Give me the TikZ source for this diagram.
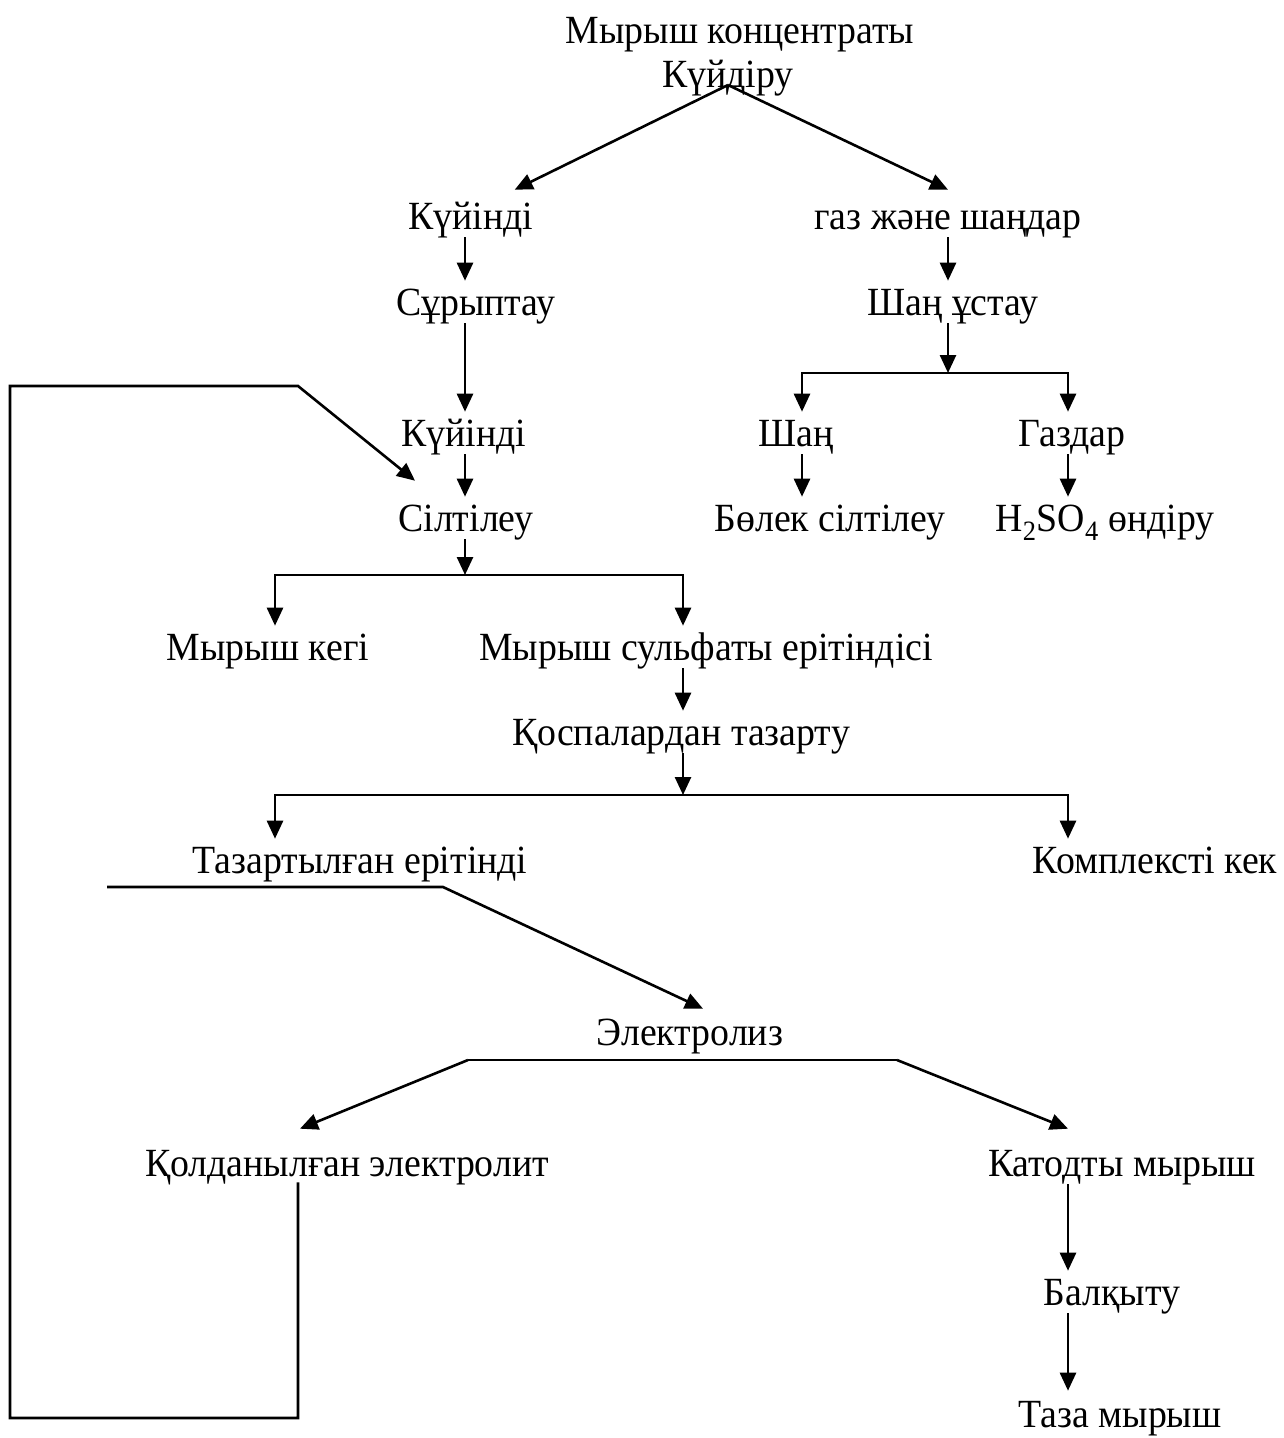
\documentclass[tikz,border=0pt]{standalone}
\usepackage{fontspec}
\setmainfont[FakeStretch=0.945]{Liberation Serif}
\usepackage{tikz}
\usetikzlibrary{arrows.meta}

\begin{document}
\begin{tikzpicture}[x=1pt, y=-1pt, line width=2.6pt,
        >={Triangle[length=18pt,width=16pt]},
        every node/.style={inner sep=0pt, text height=33pt, text depth=7pt,
            font=\fontsize{40}{48}\selectfont}]
                \useasboundingbox (0,0) rectangle (1283,1438);

                % columns of the vertical arrows
                \coordinate (cA) at (465,0);
                \coordinate (cB) at (948,0);
                \coordinate (cC) at (802,0);
                \coordinate (cD) at (1068,0);
                \coordinate (cE) at (683,0);
                \coordinate (cF) at (275,0);

                \node (konc) at (740, 30) {Мырыш концентраты};
                \node (kuydiru) at (728, 74) {Күйдіру};
                \node (kuyindi1) at (471, 216) {Күйінді};
                \node (gaz) at (948, 216) {газ және шаңдар};
                \node (suryptau) at (476, 302) {Сұрыптау};
                \node (shanustau) at (953, 302) {Шаң ұстау};
                \node (kuyindi2) at (464, 433) {Күйінді};
                \node (shan) at (796, 433) {Шаң};
                \node (gazdar) at (1072, 433) {Газдар};
                \node (siltileu) at (466, 518) {Сілтілеу};
                \node (bolek) at (830, 518) {Бөлек сілтілеу};
                \node (h2so4) at (1105, 518) {H\textsubscript{2}SO\textsubscript{4} өндіру};
                \node (kek) at (268, 647) {Мырыш кегі};
                \node (sulfat) at (706, 647) {Мырыш сульфаты ерітіндісі};
                \node (tazartu) at (681, 732) {Қоспалардан тазарту};
                \node (tazart) at (360, 860) {Тазартылған ерітінді};
                \node (kompleks) at (1155, 860) {Комплексті кек};
                \node (elektroliz) at (690, 1032) {Электролиз};
                \node (koldan) at (347, 1163) {Қолданылған электролит};
                \node (katod) at (1122, 1163) {Катодты мырыш};
                \node (balqytu) at (1112, 1292) {Балқыту};
                \node (taza) at (1120, 1414) {Таза мырыш};

                % roasting
                \draw[->] ([yshift=2pt]kuydiru.base) -- ([xshift=-20pt,yshift=5pt]kuyindi1.north east);
                \draw[->] ([yshift=2pt]kuydiru.base) -- ([yshift=5pt]gaz.north);

                % left column
                \draw[->] (kuyindi1.south -| cA) -- (suryptau.north -| cA);
                \draw[->] (suryptau.south -| cA) -- (kuyindi2.north -| cA);
                \draw[->] (kuyindi2.south -| cA) -- (siltileu.north -| cA);
                \coordinate (br1) at (465, 575);
                \draw[->] (siltileu.south -| cA) -- (br1);
                \draw[->] (br1) -| (kek.north -| cF);
                \draw[->] (br1) -| (sulfat.north -| cE);

                % right column
                \draw[->] (gaz.south -| cB) -- (shanustau.north -| cB);
                \coordinate (br2) at (948, 373);
                \draw[->] (shanustau.south -| cB) -- (br2);
                \draw[->] (br2) -| (shan.north -| cC);
                \draw[->] (br2) -| (gazdar.north -| cD);
                \draw[->] (shan.south -| cC) -- (bolek.north -| cC);
                \draw[->] (gazdar.south -| cD) -- (h2so4.north -| cD);

                % purification
                \draw[->] (sulfat.south -| cE) -- (tazartu.north -| cE);
                \coordinate (br3) at (683, 795);
                \draw[->] (tazartu.south -| cE) -- (br3);
                \draw[->] (br3) -| (tazart.north -| cF);
                \draw[->] (br3) -| (kompleks.north -| cD);

                % electrolysis
                \coordinate (t1) at (107, 887);
                \coordinate (t2) at (443, 887);
                \draw[->] (t1) -- (t2) -- ([xshift=13pt,yshift=2pt]elektroliz.north);
                \coordinate (e1) at (468, 1060);
                \coordinate (e2) at (897, 1060);
                \draw (e1) -- (e2);
                \draw[->] (e1) -- ([xshift=-47pt,yshift=13pt]koldan.north);
                \draw[->] (e2) -- ([yshift=13pt]katod.north -| cD);

                % zinc
                \draw[->] (katod.south -| cD) -- (balqytu.north -| cD);
                \draw[->] (balqytu.south -| cD) -- ([yshift=2pt]taza.north -| cD);

                % return of spent electrolyte
                \coordinate (l1) at (298, 1418);
                \coordinate (l2) at (10, 1418);
                \coordinate (l3) at (10, 386);
                \coordinate (l4) at (298, 386);
                \draw[->] ([xshift=-49pt,yshift=2pt]koldan.south) -- (l1) -- (l2) -- (l3) -- (l4)
                    -- ([xshift=-51pt,yshift=16pt]siltileu.north);
            \end{tikzpicture}
\end{document}
